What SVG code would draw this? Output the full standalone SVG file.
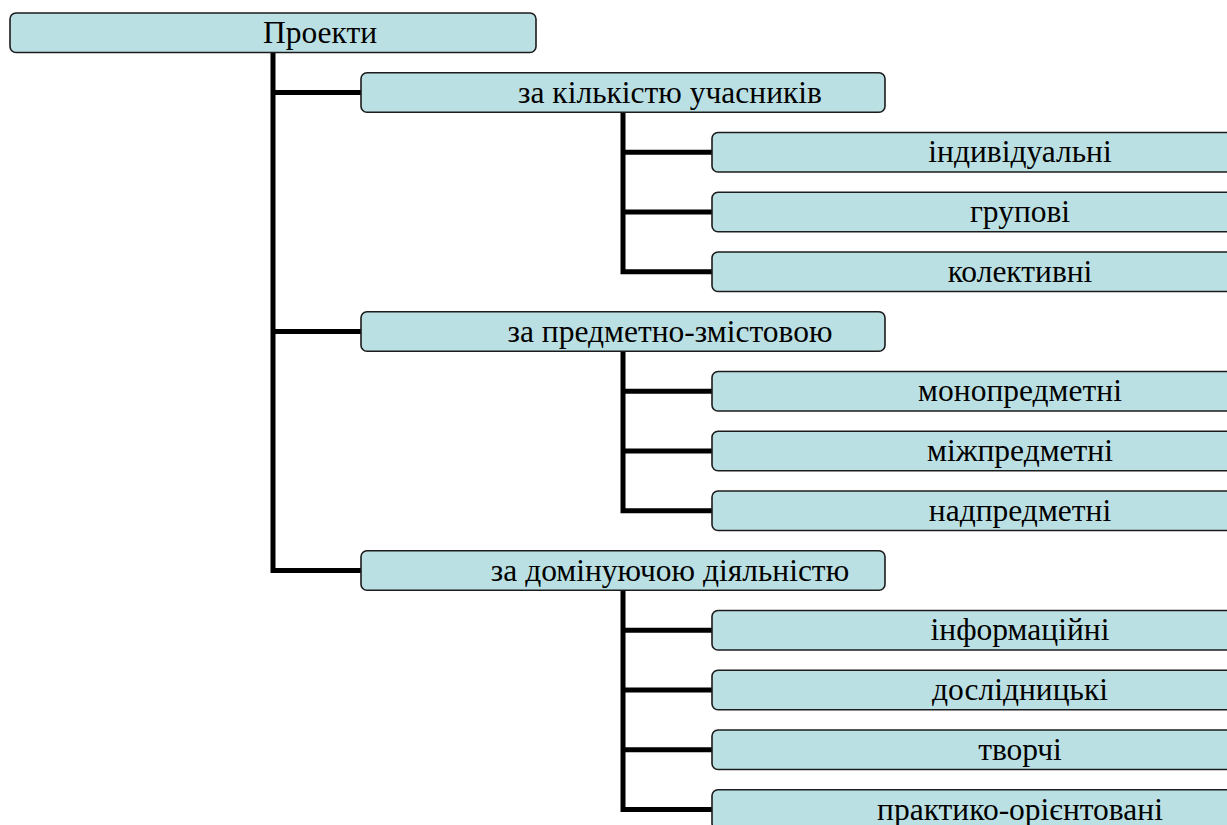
<svg xmlns="http://www.w3.org/2000/svg" width="1227" height="825" viewBox="0 0 1227 825">
<style>
.box{fill:#bbe0e3;stroke:#1c1c1c;stroke-width:1.6}
.lbl{font-family:'Liberation Serif','Times New Roman',serif;font-size:31.5px;fill:#000;text-anchor:middle}
.con{fill:none;stroke:#000;stroke-width:5;stroke-linejoin:miter;stroke-linecap:butt}
</style>
<rect width="1227" height="825" fill="#fff"/>
<g id="connectors" class="con">
<path d="M273 52.5 V570.5 H361"/>
<path d="M273 92.5 H361"/>
<path d="M273 331.5 H361"/>
<path d="M623 112.25 V271.75 H712"/>
<path d="M623 152.25 H712"/>
<path d="M623 212 H712"/>
<path d="M623 351.25 V510.75 H712"/>
<path d="M623 391.25 H712"/>
<path d="M623 451 H712"/>
<path d="M623 590.25 V809.5 H712"/>
<path d="M623 630.25 H712"/>
<path d="M623 690 H712"/>
<path d="M623 749.75 H712"/>
</g>
<g id="n-root"><rect class="box" x="10" y="13" width="526" height="39.5" rx="6"/><text class="lbl" x="320" y="42.5">Проекти</text></g>
<g id="n-a"><rect class="box" x="361" y="72.75" width="524" height="39.5" rx="6"/><text class="lbl" x="670" y="102.5">за кількістю учасників</text></g>
<g id="n-a1"><rect class="box" x="712" y="132.5" width="524" height="39.5" rx="6"/><text class="lbl" x="1020" y="162.25">індивідуальні</text></g>
<g id="n-a2"><rect class="box" x="712" y="192.25" width="524" height="39.5" rx="6"/><text class="lbl" x="1020" y="222">групові</text></g>
<g id="n-a3"><rect class="box" x="712" y="252" width="524" height="39.5" rx="6"/><text class="lbl" x="1020" y="281.75">колективні</text></g>
<g id="n-b"><rect class="box" x="361" y="311.75" width="524" height="39.5" rx="6"/><text class="lbl" x="670" y="341.5">за предметно-змістовою</text></g>
<g id="n-b1"><rect class="box" x="712" y="371.5" width="524" height="39.5" rx="6"/><text class="lbl" x="1020" y="401.25">монопредметні</text></g>
<g id="n-b2"><rect class="box" x="712" y="431.25" width="524" height="39.5" rx="6"/><text class="lbl" x="1020" y="461">міжпредметні</text></g>
<g id="n-b3"><rect class="box" x="712" y="491" width="524" height="39.5" rx="6"/><text class="lbl" x="1020" y="520.75">надпредметні</text></g>
<g id="n-c"><rect class="box" x="361" y="550.75" width="524" height="39.5" rx="6"/><text class="lbl" x="670" y="580.5">за домінуючою діяльністю</text></g>
<g id="n-c1"><rect class="box" x="712" y="610.5" width="524" height="39.5" rx="6"/><text class="lbl" x="1020" y="640.25">інформаційні</text></g>
<g id="n-c2"><rect class="box" x="712" y="670.25" width="524" height="39.5" rx="6"/><text class="lbl" x="1020" y="700">дослідницькі</text></g>
<g id="n-c3"><rect class="box" x="712" y="730" width="524" height="39.5" rx="6"/><text class="lbl" x="1020" y="759.75">творчі</text></g>
<g id="n-c4"><rect class="box" x="712" y="789.75" width="524" height="39.5" rx="6"/><text class="lbl" x="1020" y="819.5">практико-орієнтовані</text></g>
</svg>
